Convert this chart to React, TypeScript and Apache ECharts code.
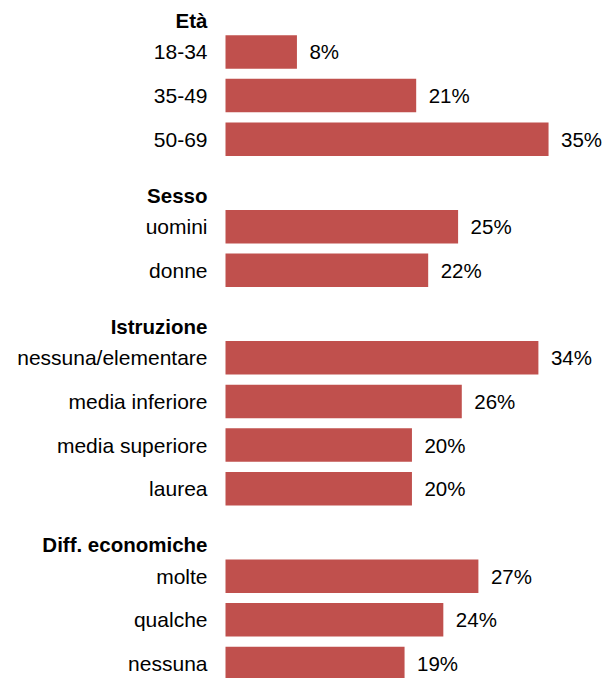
import React, { useEffect, useRef } from "react";
import * as echarts from "echarts";

// Row labels, top to bottom (group headers included)
const groupHeaders = ["Età", "Sesso", "Istruzione", "Diff. economiche"];
const categories = [
  "Età", "18-34", "35-49", "50-69",
  "Sesso", "uomini", "donne",
  "Istruzione", "nessuna/elementare", "media inferiore", "media superiore", "laurea",
  "Diff. economiche", "molte", "qualche", "nessuna",
];
// Estimated shares (%); labels shown rounded
const etaValues = [7.74, 20.66, 35.0];
const sessoValues = [25.2, 21.96];
const istruzioneValues = [33.9, 25.6, 20.2, 20.2];
const diffValues = [27.4, 23.6, 19.4];

const seriesValues: (number | string)[] = [
  "-", ...etaValues,
  "-", ...sessoValues,
  "-", ...istruzioneValues,
  "-", ...diffValues,
];

const FONT = "'Liberation Sans', Arial, sans-serif";

export default function App() {
  const ref = useRef<HTMLDivElement>(null);
  useEffect(() => {
    if (!ref.current) return;
    const chart = echarts.init(ref.current, null, { renderer: "svg" });
    chart.setOption({
      animation: false,
      backgroundColor: "#ffffff",
      grid: {
        left: 225.5,
        width: 369.2,
        top: -13.6,
        height: 699,
        containLabel: false,
        outerBoundsMode: "none",
      },
      xAxis: {
        type: "value",
        min: 0,
        max: 40,
        show: false,
      },
      yAxis: {
        type: "category",
        inverse: true,
        data: categories,
        axisLine: { show: false },
        axisTick: { show: false },
        splitLine: { show: false },
        axisLabel: {
          margin: 18,
          fontFamily: FONT,
          fontSize: 21,
          color: "#000000",
          formatter: (v: string) =>
            groupHeaders.includes(v) ? `{h|${v}}` : `{n|${v}}`,
          rich: {
            h: {
              fontFamily: FONT,
              fontSize: 20.5,
              fontWeight: "bold",
              color: "#000000",
              padding: [25, 0, 0, 0],
            },
            n: {
              fontFamily: FONT,
              fontSize: 21,
              color: "#000000",
            },
          },
        },
      },
      series: [
        {
          type: "bar",
          data: seriesValues,
          barWidth: 33.5,
          itemStyle: { color: "#C0504D" },
          label: {
            show: true,
            position: "right",
            distance: 12.5,
            fontFamily: FONT,
            fontSize: 20.5,
            color: "#000000",
            formatter: (p: any) => `${Math.round(p.value)}%`,
          },
        },
      ],
    });
    return () => chart.dispose();
  }, []);
  return (
    <div
      ref={ref}
      style={{ position: "fixed", left: 0, top: 0, width: 611, height: 678 }}
    />
  );
}
